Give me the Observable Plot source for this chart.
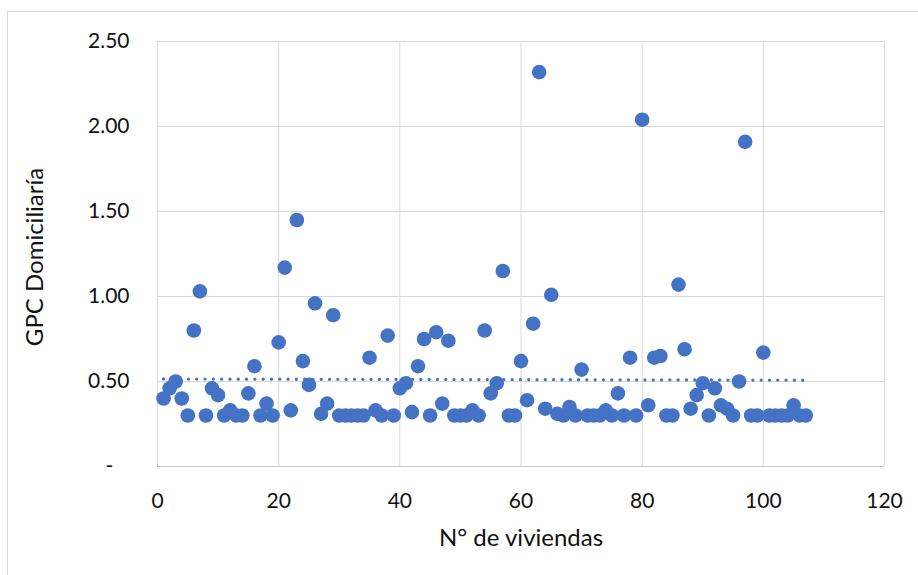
<!DOCTYPE html>
<html>
<head>
<meta charset="utf-8">
<script src="https://cdn.jsdelivr.net/npm/d3@7"></script>
<script src="https://cdn.jsdelivr.net/npm/@observablehq/plot@0.6"></script>
<style>
  html, body { margin: 0; padding: 0; background: #fff; overflow: hidden; }
  #chart { position: relative; width: 918px; height: 575px; }
  #frame { position: absolute; left: 7px; top: 11px; width: 960px; height: 620px;
           border: 1px solid #d9d9d9; box-sizing: border-box; }
  #chart svg { position: absolute; left: 0; top: 0; }
</style>
</head>
<body>
<div id="chart"><div id="frame"></div></div>
<script>
// GPC domiciliaria (kg/hab/día) per surveyed household, in survey order 1..107
const gpc = [
  0.40, 0.46, 0.50, 0.40, 0.30, 0.80, 1.03, 0.30, 0.46, 0.42,
  0.30, 0.33, 0.30, 0.30, 0.43, 0.59, 0.30, 0.37, 0.30, 0.73,
  1.17, 0.33, 1.45, 0.62, 0.48, 0.96, 0.31, 0.37, 0.89, 0.30,
  0.30, 0.30, 0.30, 0.30, 0.64, 0.33, 0.30, 0.77, 0.30, 0.46,
  0.49, 0.32, 0.59, 0.75, 0.30, 0.79, 0.37, 0.74, 0.30, 0.30,
  0.30, 0.33, 0.30, 0.80, 0.43, 0.49, 1.15, 0.30, 0.30, 0.62,
  0.39, 0.84, 2.32, 0.34, 1.01, 0.31, 0.30, 0.35, 0.30, 0.57,
  0.30, 0.30, 0.30, 0.33, 0.30, 0.43, 0.30, 0.64, 0.30, 2.04,
  0.36, 0.64, 0.65, 0.30, 0.30, 1.07, 0.69, 0.34, 0.42, 0.49,
  0.30, 0.46, 0.36, 0.34, 0.30, 0.50, 1.91, 0.30, 0.30, 0.67,
  0.30, 0.30, 0.30, 0.30, 0.36, 0.30, 0.30
];

const xTicks = [0, 20, 40, 60, 80, 100, 120];
const yTicks = [0, 0.5, 1, 1.5, 2, 2.5];
const xTitle = "N° de viviendas";
const yTitle = "GPC Domiciliaría";

const blue = "#4472C4";
const grid = "#d9d9d9";

const viviendas = gpc.map((v, i) => ({n: i + 1, gpc: v}));

const chart = Plot.plot({
  width: 918,
  height: 575,
  marginLeft: 157,
  marginRight: 34,
  marginTop: 41,
  marginBottom: 109,
  style: {fontFamily: "Lato, 'Open Sans', sans-serif", fontSize: "21px", color: "#111", background: "transparent"},
  x: {domain: [0, 120]},
  y: {domain: [0, 2.5]},
  marks: [
    Plot.gridX(xTicks, {stroke: grid, strokeOpacity: 1, strokeWidth: 1}),
    Plot.gridY(yTicks, {stroke: grid, strokeOpacity: 1, strokeWidth: 1}),
    Plot.ruleY([0], {stroke: "#cccccc", strokeWidth: 1}),
    Plot.axisX(xTicks, {tickSize: 0, tickPadding: 27, fontSize: 21, label: null}),
    Plot.axisY(yTicks, {
      tickSize: 0, tickPadding: 28, fontSize: 21, label: null,
      tickFormat: (d) => d === 0 ? "-\u00a0\u00a0\u00a0" : d.toFixed(2)
    }),
    Plot.dot(viviendas, {x: "n", y: "gpc", r: 7.3, fill: blue, stroke: "none"}),
    Plot.linearRegressionY(viviendas, {
      x: "n", y: "gpc", ci: 0,
      stroke: blue, strokeWidth: 3.3, strokeDasharray: "0,8.3", strokeLinecap: "round"
    }),
    Plot.text([xTitle], {text: (d) => d, frameAnchor: "bottom", dy: 72, dx: 0, fontSize: 24, textAnchor: "middle", lineAnchor: "middle", fill: "#111"}),
    Plot.text([yTitle], {text: (d) => d, frameAnchor: "left", rotate: -90, dx: -122, dy: 3, fontSize: 24, textAnchor: "middle", lineAnchor: "middle", fill: "#111"})
  ]
});

document.getElementById("chart").appendChild(chart);
</script>
</body>
</html>
